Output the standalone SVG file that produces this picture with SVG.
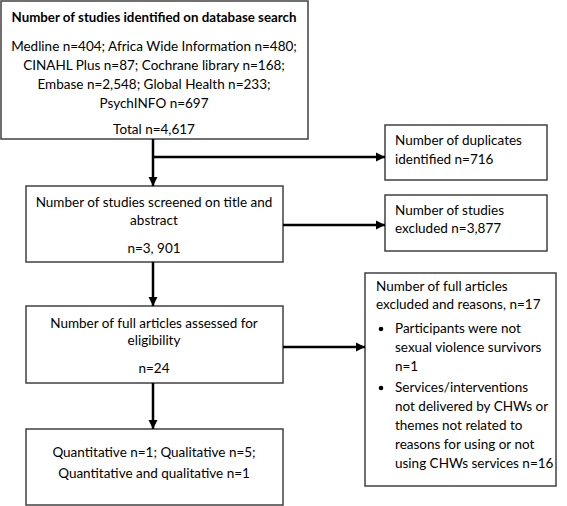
<svg xmlns="http://www.w3.org/2000/svg" width="567" height="506" viewBox="0 0 567 506">
<defs>
<marker id="ah" markerUnits="userSpaceOnUse" markerWidth="10" markerHeight="10" refX="9" refY="5" orient="auto">
<path d="M0,0.5 L9,5 L0,9.5 Z" fill="#000"/>
</marker>
<style>
.box{fill:#fff;stroke:#404040;stroke-width:1.5}
.t{font-family:Lato,"Liberation Sans",sans-serif;font-size:13.5px;fill:#000}
.c{text-anchor:middle}
.b{font-weight:bold;font-size:13.3px}
.conn{fill:none;stroke:#000;stroke-width:2.5}
</style>
</defs>
<rect width="567" height="506" fill="#fff"/>
<g id="n-search">
<rect class="box" x="1" y="1" width="307" height="138"/>
<text class="t c b" x="154" y="22">Number of studies identified on database search</text>
<text class="t c" x="154" y="51">Medline n=404; Africa Wide Information n=480;</text>
<text class="t c" x="154" y="70">CINAHL Plus n=87; Cochrane library n=168;</text>
<text class="t c" x="154" y="89">Embase n=2,548; Global Health n=233;</text>
<text class="t c" x="154" y="108">PsychINFO n=697</text>
<text class="t c" x="154" y="134">Total n=4,617</text>
</g>
<g id="n-duplicates">
<rect class="box" x="385" y="125" width="162" height="55"/>
<text class="t" x="395" y="145">Number of duplicates</text>
<text class="t" x="395" y="164">identified n=716</text>
</g>
<g id="n-screened">
<rect class="box" x="26" y="186" width="257" height="76"/>
<text class="t c" x="154" y="207">Number of studies screened on title and</text>
<text class="t c" x="154" y="225">abstract</text>
<text class="t c" x="154" y="253">n=3, 901</text>
</g>
<g id="n-excluded">
<rect class="box" x="385" y="195" width="162" height="56"/>
<text class="t" x="395" y="215">Number of studies</text>
<text class="t" x="395" y="233">excluded n=3,877</text>
</g>
<g id="n-full">
<rect class="box" x="26" y="306" width="257" height="77"/>
<text class="t c" x="154" y="328">Number of full articles assessed for</text>
<text class="t c" x="154" y="345">eligibility</text>
<text class="t c" x="154" y="373">n=24</text>
</g>
<g id="n-reasons">
<rect class="box" x="365" y="273" width="191" height="213"/>
<text class="t" x="376" y="291">Number of full articles</text>
<text class="t" x="376" y="309">excluded and reasons, n=17</text>
<circle cx="381" cy="329" r="2.3" fill="#000"/>
<text class="t" x="395" y="333">Participants were not</text>
<text class="t" x="395" y="352">sexual violence survivors</text>
<text class="t" x="395" y="371">n=1</text>
<circle cx="381" cy="388" r="2.3" fill="#000"/>
<text class="t" x="395" y="392">Services/interventions</text>
<text class="t" x="395" y="411">not delivered by CHWs or</text>
<text class="t" x="395" y="430">themes not related to</text>
<text class="t" x="395" y="449">reasons for using or not</text>
<text class="t" x="395" y="468">using CHWs services n=16</text>
</g>
<g id="n-final">
<rect class="box" x="26" y="429" width="257" height="76"/>
<text class="t c" x="154" y="457">Quantitative n=1; Qualitative n=5;</text>
<text class="t c" x="154" y="478">Quantitative and qualitative n=1</text>
</g>
<g id="connectors">
<path class="conn" d="M153,139 V186" marker-end="url(#ah)"/>
<path class="conn" d="M153,157 H385" marker-end="url(#ah)"/>
<path class="conn" d="M153,262 V306" marker-end="url(#ah)"/>
<path class="conn" d="M283,225 H385" marker-end="url(#ah)"/>
<path class="conn" d="M153,383 V429" marker-end="url(#ah)"/>
<path class="conn" d="M283,347 H365" marker-end="url(#ah)"/>
</g>
</svg>
